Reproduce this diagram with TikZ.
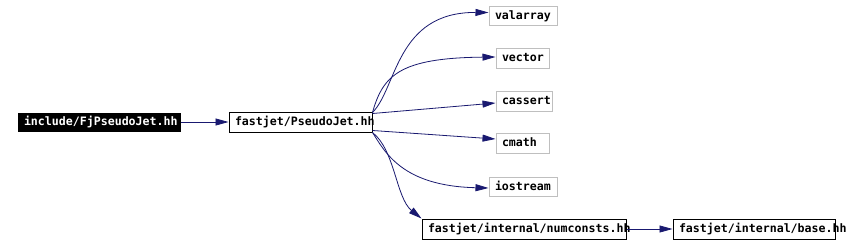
\documentclass[tikz,border=0pt]{standalone}
\usepackage{fontspec}
\newfontfamily\codefont{DejaVu Sans Mono}
\usetikzlibrary{arrows.meta}
\definecolor{edgecol}{HTML}{191970}
\definecolor{graybd}{HTML}{BFBFBF}
\tikzset{
  filebox/.style={draw=black, line width=1pt, rectangle, font=\codefont\bfseries\fontsize{11.6}{12}\selectfont,
    inner xsep=6pt, inner ysep=0pt, minimum height=20pt, align=left, text height=8.5pt, text depth=1.5pt},
  sysbox/.style={filebox, draw=graybd},
  rootbox/.style={filebox, draw=black, fill=black, text=white, minimum height=18pt},
  dep/.style={draw=edgecol, line width=0.8pt, -{Triangle[length=13pt,width=7pt]}},
}
\begin{document}
\begin{tikzpicture}[x=1pt,y=-1pt]
\useasboundingbox (0,0) rectangle (852,244);
\fill[white] (0,0) rectangle (852,244);
\node[rootbox, text width=150pt] (inc) at (99,122) {include/FjPseudoJet.hh};
\node[filebox, text width=131pt] (pj) at (300.5,122) {fastjet/PseudoJet.hh};
\node[sysbox, text width=56pt, minimum height=19pt] (val) at (523,15.5) {valarray};
\node[sysbox, text width=41pt] (vec) at (522.5,58) {vector};
\node[sysbox, text width=44pt] (cas) at (524,101) {cassert};
\node[sysbox, text width=41pt] (cma) at (522.5,143) {cmath};
\node[sysbox, text width=56pt, minimum height=19pt] (ios) at (523,186.5) {iostream};
\node[filebox, text width=192pt] (num) at (524,229) {fastjet/internal/numconsts.hh};
\node[filebox, text width=150pt] (base) at (754,229) {fastjet/internal/base.hh};
\draw[dep] (inc.east) -- (pj.west);
\draw[dep] ([yshift=-1pt]pj.north east) .. controls (397,88) and (396,12) .. ([yshift=3pt]val.west);
\draw[dep] ([yshift=-1pt]pj.north east) .. controls (383,75) and (400,58) .. ([yshift=1pt]vec.west);
\draw[dep] ([yshift=-2pt]pj.north east) -- ([yshift=-2pt]cas.west);
\draw[dep] ([yshift=2pt]pj.south east) -- ([yshift=4pt]cma.west);
\draw[dep] (pj.south east) .. controls (385,152) and (402,186) .. ([yshift=-1.5pt]ios.west);
\draw[dep] (pj.south east) .. controls (395,150) and (396,198) .. (num.north west);
\draw[dep] (num.east) -- (base.west);
\end{tikzpicture}
\end{document}
